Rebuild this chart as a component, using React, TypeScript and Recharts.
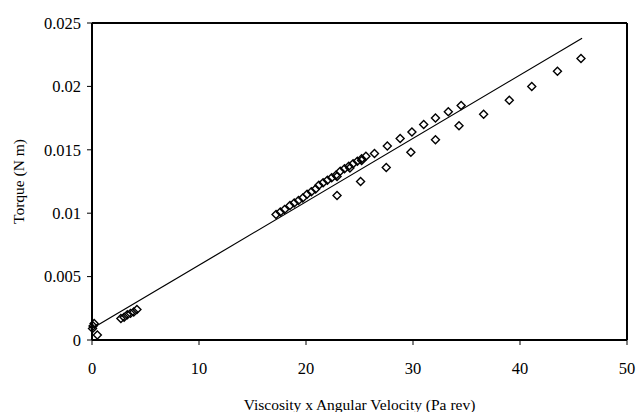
import { ScatterChart, Scatter, XAxis, YAxis, ReferenceLine } from "recharts";

// upper band of measurements (dense run + spaced run)
const upperX = [17.2, 17.6, 18.0, 18.5, 18.9, 19.3, 19.7, 20.1, 20.5, 20.9, 21.2, 21.6, 22.0, 22.4, 22.8, 23.2, 23.6, 24.0, 24.4, 24.8, 25.2, 25.6, 26.4, 27.6, 28.8, 29.9, 31.0, 32.1, 33.3, 34.5];
const upperY = [0.0099, 0.0101, 0.0103, 0.0106, 0.0108, 0.011, 0.0112, 0.0115, 0.0117, 0.0119, 0.0122, 0.0124, 0.0126, 0.0128, 0.013, 0.0133, 0.0135, 0.0137, 0.0139, 0.0141, 0.0143, 0.0145, 0.0147, 0.0153, 0.0159, 0.0164, 0.017, 0.0175, 0.018, 0.0185];

// points just under the dense run
const midX = [22.9, 24.1, 25.2];
const midY = [0.0129, 0.01356, 0.01416];

// lower band
const lowerX = [22.9, 25.1, 27.5, 29.8, 32.1, 34.3, 36.6, 39.0, 41.1, 43.5, 45.7];
const lowerY = [0.0114, 0.0125, 0.0136, 0.0148, 0.0158, 0.0169, 0.0178, 0.0189, 0.02, 0.0212, 0.0222];

// near the origin
const smallX = [0.05, 0.1, 0.2, 0.5, 2.7, 3.0, 3.3, 3.6, 3.9, 4.2];
const smallY = [0.0009, 0.0011, 0.0013, 0.0004, 0.0017, 0.0018, 0.002, 0.0021, 0.0022, 0.0024];

// fitted line end points
const fitX = [0, 45.8];
const fitY = [0.0009, 0.0238];

const xTicks = [0, 10, 20, 30, 40, 50];
const yTicks = [0, 0.005, 0.01, 0.015, 0.02, 0.025];

const toPoints = (xs: number[], ys: number[]) => xs.map((x, i) => ({ x, y: ys[i] }));

const points = [
  ...toPoints(smallX, smallY),
  ...toPoints(upperX, upperY),
  ...toPoints(midX, midY),
  ...toPoints(lowerX, lowerY),
];
const fit = toPoints(fitX, fitY);

const serif = "Liberation Serif, serif";
const titleFont = { fontFamily: serif, fontSize: 15.5, fill: "#000" };
const tickStyle = { fontFamily: serif, fontSize: 16.5, fill: "#000" };

const XTick = ({ x, y, payload }: any) => (
  <text x={x} y={y} dy="0.71em" textAnchor="middle" style={tickStyle}>
    {payload.value}
  </text>
);

const YTick = ({ x, y, payload }: any) => (
  <text x={x} y={y} dy="0.355em" textAnchor="end" style={tickStyle}>
    {payload.value}
  </text>
);

const Diamond = (props: any) => {
  const { cx, cy } = props;
  if (cx == null || cy == null) return <g />;
  const r = 4;
  return (
    <path
      d={`M${cx},${cy - r}L${cx + r},${cy}L${cx},${cy + r}L${cx - r},${cy}Z`}
      fill="none"
      stroke="#000"
      strokeWidth={1.4}
    />
  );
};

const App = () => {
  return (
    <div style={{ position: "absolute", left: 0, top: 0, background: "#fff", fontFamily: serif }}>
      <ScatterChart width={637} height={412} margin={{ top: 23, right: 10, bottom: 0, left: 0 }}>
        <XAxis
          type="number"
          dataKey="x"
          domain={[0, 50]}
          ticks={xTicks}
          height={72}
          tickSize={5}
          tickMargin={17}
          axisLine={{ stroke: "#000", strokeWidth: 2 }}
          tickLine={{ stroke: "#000" }}
          tick={<XTick />}
          label={{ value: "Viscosity x Angular Velocity (Pa rev)", position: "insideBottom", offset: 2, style: titleFont }}
        />
        <YAxis
          type="number"
          dataKey="y"
          domain={[0, 0.025]}
          ticks={yTicks}
          width={92}
          tickSize={5}
          tickMargin={6}
          axisLine={{ stroke: "#000", strokeWidth: 2 }}
          tickLine={{ stroke: "#000" }}
          tick={<YTick />}
          label={{ value: "Torque (N m)", angle: -90, position: "insideLeft", offset: 18, style: { ...titleFont, textAnchor: "middle" } }}
        />
        <ReferenceLine y={0.025} stroke="#000" strokeWidth={2} />
        <ReferenceLine x={50} stroke="#000" strokeWidth={2} />
        <Scatter data={fit} line={{ stroke: "#000", strokeWidth: 1.2 }} shape={() => <g />} isAnimationActive={false} />
        <Scatter data={points} shape={Diamond} isAnimationActive={false} />
      </ScatterChart>
    </div>
  );
};

export default App;
